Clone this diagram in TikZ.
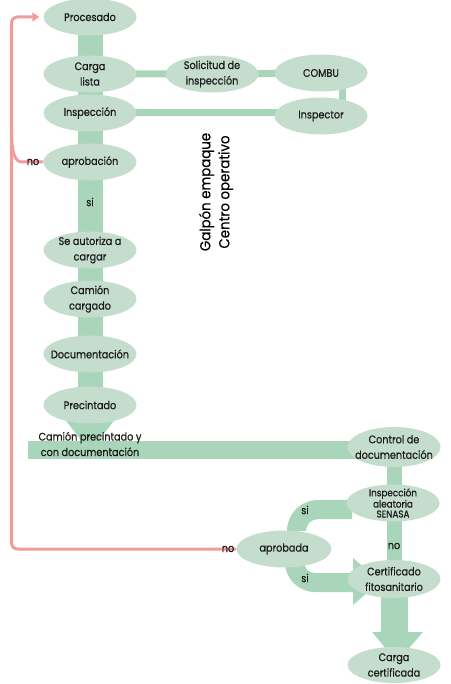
\documentclass[tikz,border=0pt]{standalone}
\usepackage{fontspec}
\setmainfont{Poppins}[FakeStretch=0.88, FakeBold=0.6]
\newfontfamily\galfont{Poppins}[FakeStretch=0.92, FakeBold=0.4]
\usetikzlibrary{shapes.geometric,arrows.meta,backgrounds}
\definecolor{ellfill}{HTML}{C4DDCD}
\definecolor{barcol}{HTML}{A9D6BA}
\definecolor{redl}{HTML}{F29B9B}
\definecolor{txt}{HTML}{1A1A1A}
\tikzset{
  ell/.style={ellipse, fill=ellfill, minimum width=93pt, minimum height=37pt, inner xsep=-14pt, inner ysep=-5pt, align=center, text=txt, font=\fontsize{11}{15.5}\selectfont},
  bar/.style={fill=barcol},
  band/.style={draw=barcol, line width=#1},
  redline/.style={draw=redl, line width=3pt},
  lbl/.style={text=txt, font=\fontsize{11}{12}\selectfont, inner sep=0pt},
}
\begin{document}
\begin{tikzpicture}[x=1pt,y=-1pt]
\useasboundingbox (0,0) rectangle (450,684);
% nodes
\node[ell] (proc) at (90,17) {Procesado};
\node[ell] (carga) at (90,74) {Carga\\lista};
\node[ell] (insp) at (90,113) {Inspección};
\node[ell] (aprob) at (90,162) {aprobación};
\node[ell] (sol) at (212,74) {Solicitud de\\inspección};
\node[ell] (combu) at (321,73) {COMBU};
\node[ell] (inspr) at (321,116) {Inspector};
\node[ell] (auto) at (90,250) {Se autoriza a\\cargar};
\node[ell] (camc) at (90,299) {Camión\\cargado};
\node[ell] (docu) at (90,354) {Documentación};
\node[ell] (prec) at (90,405) {Precintado};
\node[ell, minimum height=40pt] (ctrl) at (394,447) {Control de\\documentación};
\node[ell, font=\fontsize{10}{10}\selectfont] (senasa) at (393,503) {Inspección\\aleatoria\\SENASA};
\node[ell, minimum width=95pt] (aprobada) at (284,549) {aprobada};
\node[ell, minimum height=38pt] (cert) at (394,579) {Certificado\\fitosanitario};
\node[ell, minimum height=36pt] (cargac) at (394,665) {Carga\\certificada};
% background connectors
\begin{scope}[on background layer]
  \draw[band=25pt] (proc.center) -- (prec.center);
  \fill[bar] (64,418) -- (116,418) -- (90,452) -- cycle;
  \fill[bar] (28,441) rectangle (394,459);
  \draw[band=7pt] (carga.center) -- (sol.center) -- (combu.center);
  \draw[band=7pt] (insp.center) -- (insp.center -| inspr.center);
  \draw[band=7pt] ([xshift=21pt]combu.center) -- ([xshift=21pt]inspr.center);
  \draw[band=15pt] (ctrl.center) -- (cert.center);
  \draw[band=27pt] (cert.center) -- ([yshift=-54pt]cert.center);
  \fill[bar] (372,632) -- (423,632) -- (397,662) -- cycle;
  % upper si band
  \fill[bar] (287,531) arc[start angle=180,end angle=90,radius=31pt] -- (352,500) -- (352,519) -- (318,519) arc[start angle=90,end angle=180,radius=12pt] -- cycle;
  % lower si band
  \fill[bar] (285,562) arc[start angle=180,end angle=270,radius=30pt] -- (355,592) -- (355,573) -- (315,573) arc[start angle=270,end angle=180,radius=11pt] -- cycle;
  \fill[bar] (353,558) -- (353,605) -- (380,581.5) -- cycle;
  % red lines
  \draw[redline, rounded corners=6pt, -{Triangle[length=7pt,width=9pt]}] (aprobada.west) -- (11.5,549) -- (11.5,17) -- ([xshift=-4pt]proc.west);
  \draw[redline] (aprob.west) -- (22,162) .. controls (14,162) and (11.5,150) .. (11.5,132);
\end{scope}
% labels
\node[lbl] (l1) at (33,162) {no};
\node[lbl] (l2) at (90,202) {si};
\node[lbl] (l3) at (228,549) {no};
\node[lbl] (l4) at (305,510) {si};
\node[lbl] (l5) at (305,578) {si};
\node[lbl] (l6) at (394,546) {no};
\node[lbl, align=center, font=\fontsize{11}{15.5}\selectfont] (l7) at (90,444) {Camión precintado y\\con documentación};
\node[rotate=90, align=center, text=black, font=\galfont\fontsize{14.5}{19}\selectfont] (gal) at (216,192) {Galpón empaque\\Centro operativo};
\end{tikzpicture}
\end{document}
